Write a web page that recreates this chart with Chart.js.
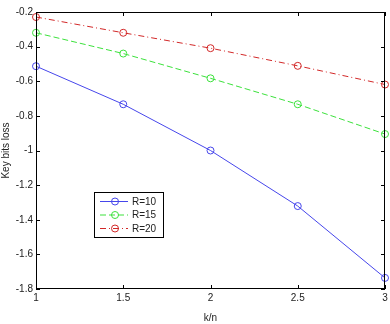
<!DOCTYPE html>
<html>
<head>
<meta charset="utf-8">
<script src="https://cdn.jsdelivr.net/npm/chart.js@4/dist/chart.umd.min.js"></script>
<style>
  html, body { margin: 0; padding: 0; background: #fff; }
  #wrap { width: 390px; height: 324px; }
</style>
</head>
<body>
<div id="wrap"><canvas id="lossChart"></canvas></div>
<script>
// data
const kn = [1, 1.5, 2, 2.5, 3];
const lossR10 = [-0.513, -0.733, -1.0, -1.321, -1.736];
const lossR15 = [-0.32, -0.44, -0.583, -0.733, -0.905];
const lossR20 = [-0.229, -0.32, -0.409, -0.511, -0.619];
const seriesNames = ["R=10", "R=15", "R=20"];
const xTicks = [1, 1.5, 2, 2.5, 3];
const yTicks = [-1.8, -1.6, -1.4, -1.2, -1, -0.8, -0.6, -0.4, -0.2];

const FONT = "'Liberation Sans', Arial, sans-serif";

function pts(ys) {
    return kn.map((x, i) => ({ x: x, y: ys[i] }));
}

function makeSet(label, ys, color, dash) {
    return {
        label: label,
        data: pts(ys),
        borderColor: color,
        borderWidth: 1,
        borderDash: dash,
        pointStyle: "circle",
        pointRadius: 3.5,
        pointBorderWidth: 1,
        pointBorderColor: color,
        pointBackgroundColor: "rgba(0,0,0,0)",
        tension: 0,
        fill: false,
        clip: 6,
    };
}

// box, inward ticks and the in-plot legend, matlab style
const matlabFrame = {
    id: "matlabFrame",
    afterDatasetsDraw(chart) {
        const c = chart.ctx;
        const a = chart.chartArea;
        const xs = chart.scales.x;
        const ys = chart.scales.y;
        c.save();
        c.strokeStyle = "#000";
        c.lineWidth = 1;
        c.setLineDash([]);
        c.strokeRect(Math.round(a.left) + 0.5, Math.round(a.top) + 0.5,
            Math.round(a.right - a.left) - 1, Math.round(a.bottom - a.top) - 1);

        c.beginPath();
        xTicks.forEach((v) => {
            const px = Math.round(xs.getPixelForValue(v)) + 0.5;
            c.moveTo(px, a.bottom); c.lineTo(px, a.bottom - 4);
            c.moveTo(px, a.top); c.lineTo(px, a.top + 4);
        });
        yTicks.forEach((v) => {
            const py = Math.round(ys.getPixelForValue(v)) + 0.5;
            c.moveTo(a.left, py); c.lineTo(a.left + 4, py);
            c.moveTo(a.right, py); c.lineTo(a.right - 4, py);
        });
        c.stroke();

        // legend
        const lx = 94, ly = 192, lw = 69, lh = 45;
        c.fillStyle = "#fff";
        c.fillRect(lx, ly, lw, lh);
        c.strokeRect(lx + 0.5, ly + 0.5, lw, lh);
        c.font = "10px " + FONT;
        c.textBaseline = "middle";
        c.textAlign = "left";
        chart.data.datasets.forEach((ds, i) => {
            const ry = ly + 9.5 + i * 13.5;
            c.strokeStyle = ds.borderColor;
            c.setLineDash(ds.borderDash || []);
            c.beginPath();
            c.moveTo(lx + 6, ry); c.lineTo(lx + 34, ry);
            c.stroke();
            c.setLineDash([]);
            c.beginPath();
            c.arc(lx + 21, ry, 3.5, 0, Math.PI * 2);
            c.stroke();
            c.fillStyle = "#222";
            c.fillText(ds.label, lx + 38, ry + 0.5);
        });
        c.restore();
    },
};

const ctx = document.getElementById("lossChart").getContext("2d");

new Chart(ctx, {
    type: "line",
    data: {
        datasets: [
            makeSet(seriesNames[0], lossR10, "rgb(70,70,235)", []),
            makeSet(seriesNames[1], lossR15, "rgb(60,225,60)", [6, 3]),
            makeSet(seriesNames[2], lossR20, "rgb(210,40,40)", [6, 3, 1, 3]),
        ],
    },
    options: {
        responsive: true,
        maintainAspectRatio: false,
        animation: false,
        layout: { padding: { top: 12, right: 1, left: 0, bottom: 0 } },
        plugins: {
            legend: { display: false },
            tooltip: { enabled: false },
        },
        scales: {
            x: {
                type: "linear",
                min: 1,
                max: 3,
                afterBuildTicks: (s) => { s.ticks = xTicks.map((v) => ({ value: v })); },
                afterFit: (s) => { s.height = 35; s.paddingLeft = 0; s.paddingRight = 0; },
                grid: { display: false, drawTicks: false },
                border: { display: false },
                ticks: {
                    color: "#222",
                    padding: 3,
                    font: { family: FONT, size: 10 },
                    maxRotation: 0,
                    callback: (v) => String(v),
                },
                title: {
                    display: true,
                    text: "k/n",
                    color: "#222",
                    padding: { top: 4, bottom: 0 },
                    font: { family: FONT, size: 10 },
                },
            },
            y: {
                type: "linear",
                min: -1.8,
                max: -0.2,
                afterBuildTicks: (s) => { s.ticks = yTicks.map((v) => ({ value: v })); },
                afterFit: (s) => { s.width = 36; s.paddingTop = 0; s.paddingBottom = 0; },
                grid: { display: false, drawTicks: false },
                border: { display: false },
                ticks: {
                    color: "#222",
                    padding: 3,
                    font: { family: FONT, size: 10 },
                    callback: (v) => String(Number(v.toFixed(1))),
                },
                title: {
                    display: true,
                    text: "Key bits loss",
                    color: "#222",
                    padding: { top: 0, bottom: 0 },
                    font: { family: FONT, size: 10 },
                },
            },
        },
    },
    plugins: [matlabFrame],
});
</script>
</body>
</html>
